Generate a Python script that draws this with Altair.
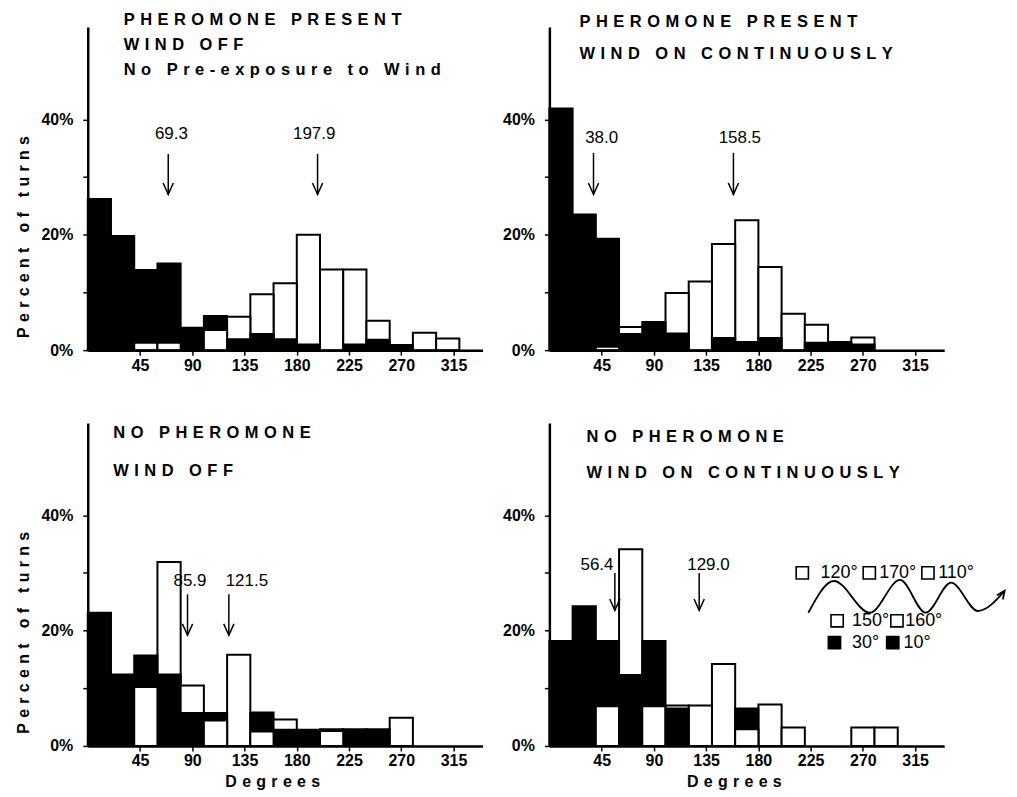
import altair as alt
import pandas as pd

# ---------------- data ----------------
bin_start = list(range(0, 320, 20))
bin_width = 20

p1_filled = [26.2, 19.8, 13.9, 15.0, 3.9, 5.9, 1.9, 2.8, 1.9, 1.0, 0, 1.0, 1.8, 0.9, 0, 0]
p1_open = [0, 0, 1.3, 1.3, 0, 3.5, 5.8, 9.7, 11.6, 20.0, 14.0, 14.0, 5.1, 0, 3.0, 2.0]
p2_filled = [41.9, 23.5, 19.3, 2.8, 4.9, 2.9, 0, 2.1, 1.4, 2.1, 0, 1.3, 1.4, 1.0, 0, 0]
p2_open = [0, 0, 0.6, 4.0, 0, 9.9, 11.9, 18.4, 22.5, 14.4, 6.3, 4.4, 0, 2.2, 0, 0]
p3_filled = [23.1, 12.4, 15.7, 12.4, 5.7, 5.7, 0, 5.8, 2.8, 2.8, 2.9, 2.9, 2.9, 0, 0, 0]
p3_open = [0, 0, 10.2, 31.9, 10.5, 4.4, 15.8, 2.5, 4.6, 0, 2.6, 0, 0, 4.9, 0, 0]
p4_filled = [18.2, 24.2, 18.2, 12.3, 18.2, 6.5, 0, 0, 6.5, 0, 0, 0, 0, 0, 0, 0]
p4_open = [0, 0, 6.9, 34.1, 6.9, 7.0, 7.0, 14.2, 2.9, 7.2, 3.2, 0, 0, 3.2, 3.2, 0]

p1_title = ["PHEROMONE PRESENT", "WIND OFF", "No Pre-exposure to Wind"]
p2_title = ["PHEROMONE PRESENT", "WIND ON CONTINUOUSLY"]
p3_title = ["NO PHEROMONE", "WIND OFF"]
p4_title = ["NO PHEROMONE", "WIND ON CONTINUOUSLY"]
p1_title_y = [57.3, 52.9, 48.6]
p2_title_y = [56.9, 51.3]
p3_title_y = [54.3, 47.6]
p4_title_y = [53.6, 47.3]
title_x = [31, 26, 22, 32]

p1_means = [69.3, 197.9]
p2_means = [38.0, 158.5]
p3_means = [85.9, 121.5]
p4_means = [56.4, 129.0]
p1_label_x = [72, 195]
p2_label_x = [45, 164]
p3_label_x = [88, 137]
p4_label_x = [41, 137]
label_y = [37.5, 36.7, 28.6, 31.4]
arrow_top = [34.0, 34.2, 26.3, 30.0]
arrow_tip = [27.0, 27.0, 19.2, 23.5]

# wave diagram (panel 4)
wave_x = [223, 245, 276, 302, 324, 346, 369, 392]
wave_y = [23.1, 28.6, 23.1, 28.8, 23.1, 28.3, 23.4, 26.9]
box_x = [217.8, 275.5, 326, 247.8, 299.3, 245.5, 295.7]
box_y = [30.0, 30.0, 30.0, 21.7, 21.7, 17.9, 17.9]
box_kind = ["open", "open", "open", "open", "open", "filled", "filled"]
legend_text = ["120\u00b0", "170\u00b0", "110\u00b0", "150\u00b0", "160\u00b0", "30\u00b0", "10\u00b0"]
legend_x = [233.5, 284, 334.8, 260.7, 306.4, 260.7, 305]

x_ticks = [45, 90, 135, 180, 225, 270, 315]
y_ticks = [0, 10, 20, 30, 40]

FONT = "Liberation Sans"
GAP = "\u2004"


def spaced(s):
    return GAP.join(s)


def panel(filled, opened, titles, title_ys, tx, means, lab_x, lab_y, a_top, a_tip,
          y_title, x_title, legend=False):
    rows = []
    for s, f, o in zip(bin_start, filled, opened):
        for series, v in (("filled", f), ("open", o)):
            if v > 0:
                rows.append({"x": s, "x2": s + bin_width, "y": v, "y0": 0, "series": series})
    bars_df = pd.DataFrame(rows).sort_values("y", ascending=False)

    x_enc = alt.X(
        "x:Q",
        scale=alt.Scale(domain=[0, 340], nice=False, zero=True),
        axis=alt.Axis(values=x_ticks, title=spaced("Degrees") if x_title else None,
                      tickSize=5, labelPadding=2, titlePadding=5, zindex=1,
                      labelFlush=False, titleX=185),
    )
    y_enc = alt.Y(
        "y:Q",
        scale=alt.Scale(domain=[0, 56], nice=False),
        axis=alt.Axis(values=y_ticks,
                      labelExpr="datum.value % 20 === 0 ? datum.value + '%' : ''",
                      title=spaced("Percent of turns") if y_title else None,
                      tickSize=5, labelPadding=10, titlePadding=9, titleY=210,
                      zindex=1, labelFlush=False),
        stack=None,
    )
    fill_scale = alt.Scale(domain=["filled", "open"], range=["black", "white"])

    bars = alt.Chart(bars_df).mark_bar(stroke="black", strokeWidth=2, strokeJoin="miter").encode(
        x=x_enc, x2="x2:Q", y=y_enc, y2="y0:Q",
        color=alt.Color("series:N", scale=fill_scale, legend=None),
        order=alt.Order("y:Q", sort="descending"),
    )

    arr_df = pd.DataFrame({"x": means, "y": [a_top] * len(means), "y2": [a_tip] * len(means)})
    shafts = alt.Chart(arr_df).mark_rule(color="black", strokeWidth=1.5).encode(
        x=x_enc, y=y_enc, y2="y2:Q")
    head_df = pd.DataFrame({"x": means, "y": [a_tip] * len(means)})
    heads = alt.Chart(head_df).mark_point(
        shape="M-0.45,-1L0,0L0.45,-1", size=520, filled=False, stroke="black",
        strokeWidth=1.5, opacity=1).encode(x=x_enc, y=y_enc)

    lab_df = pd.DataFrame({"x": lab_x, "y": [lab_y] * len(means),
                           "t": [f"{m:.1f}" for m in means]})
    labels = alt.Chart(lab_df).mark_text(font=FONT, fontSize=17, color="black",
                                         baseline="middle").encode(
        x=x_enc, y=y_enc, text="t:N")

    t_df = pd.DataFrame({"x": [tx] * len(titles), "y": title_ys,
                         "t": [spaced(t) for t in titles]})
    title_marks = alt.Chart(t_df).mark_text(font=FONT, fontSize=16.5, fontWeight="bold",
                                            color="black", align="left",
                                            baseline="middle").encode(
        x=x_enc, y=y_enc, text="t:N")

    layers = [bars, shafts, heads, labels, title_marks]

    if legend:
        w_df = pd.DataFrame({"x": wave_x, "y": wave_y})
        wave = alt.Chart(w_df).mark_line(color="black", strokeWidth=1.8,
                                         interpolate="monotone").encode(x=x_enc, y=y_enc)
        end_df = pd.DataFrame({"x": [wave_x[-1]], "y": [wave_y[-1]]})
        wave_head = alt.Chart(end_df).mark_point(
            shape="M-0.45,-1L0,0L0.45,-1", size=260, filled=False, stroke="black",
            strokeWidth=1.8, angle=215, opacity=1).encode(x=x_enc, y=y_enc)
        b_df = pd.DataFrame({"x": box_x, "y": box_y, "series": box_kind})
        boxes = alt.Chart(b_df).mark_square(size=150, stroke="black", strokeWidth=1.6,
                                            opacity=1).encode(
            x=x_enc, y=y_enc,
            fill=alt.Fill("series:N", scale=fill_scale, legend=None))
        lg_df = pd.DataFrame({"x": legend_x, "y": box_y, "t": legend_text})
        lg_text = alt.Chart(lg_df).mark_text(font=FONT, fontSize=18, color="black",
                                             align="left", baseline="middle").encode(
            x=x_enc, y=y_enc, text="t:N")
        layers += [wave, wave_head, boxes, lg_text]

    return alt.layer(*layers).properties(width=396, height=324)


c1 = panel(p1_filled, p1_open, p1_title, p1_title_y, title_x[0], p1_means, p1_label_x,
           label_y[0], arrow_top[0], arrow_tip[0], True, False)
c2 = panel(p2_filled, p2_open, p2_title, p2_title_y, title_x[1], p2_means, p2_label_x,
           label_y[1], arrow_top[1], arrow_tip[1], False, False)
c3 = panel(p3_filled, p3_open, p3_title, p3_title_y, title_x[2], p3_means, p3_label_x,
           label_y[2], arrow_top[2], arrow_tip[2], True, True)
c4 = panel(p4_filled, p4_open, p4_title, p4_title_y, title_x[3], p4_means, p4_label_x,
           label_y[3], arrow_top[3], arrow_tip[3], False, True, legend=True)

chart = alt.vconcat(
    alt.hconcat(c1, c2, spacing=19),
    alt.hconcat(c3, c4, spacing=19),
    spacing=50,
).configure_view(stroke=None).configure_axis(
    domainColor="black", domainWidth=2.5, tickColor="black", tickWidth=1.5,
    labelColor="black", labelFont=FONT, labelFontWeight="bold", labelFontSize=16,
    titleFont=FONT, titleFontWeight="bold", titleFontSize=16, titleColor="black",
    grid=False,
).properties(padding={"left": 7, "top": 2, "right": 0, "bottom": 0}, background="white")

chart.save("out.html", embed_options={"renderer": "svg", "actions": False})
